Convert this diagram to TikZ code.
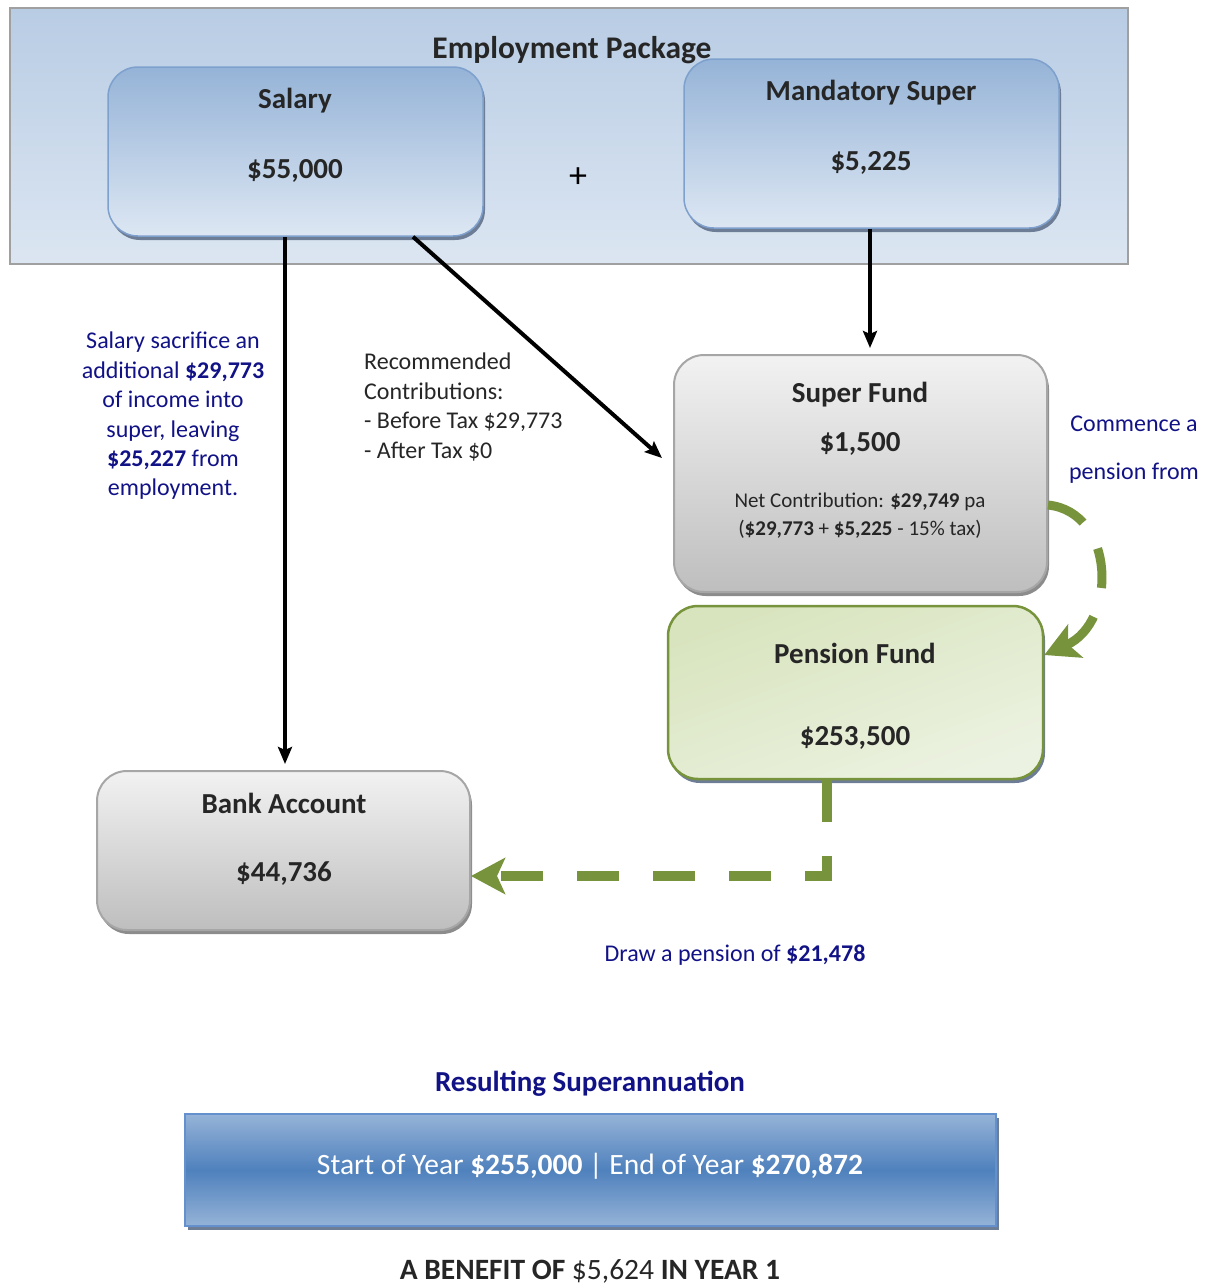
\documentclass[tikz,border=0pt]{standalone}
\usepackage{fontspec}
\setmainfont{Carlito}
\usetikzlibrary{arrows.meta,shadows}
\definecolor{navytxt}{RGB}{18,18,135}
\definecolor{boxtxt}{RGB}{38,38,38}
\definecolor{empTop}{RGB}{184,204,228}
\definecolor{empBot}{RGB}{220,230,242}
\definecolor{empBorder}{RGB}{160,160,160}
\definecolor{blueTop}{RGB}{149,179,215}
\definecolor{blueBot}{RGB}{221,231,243}
\definecolor{blueBorder}{RGB}{126,160,205}
\definecolor{grayTop}{RGB}{242,242,242}
\definecolor{grayBot}{RGB}{190,190,190}
\definecolor{grayBorder}{RGB}{166,166,166}
\definecolor{greenTop}{RGB}{216,228,190}
\definecolor{greenBot}{RGB}{236,242,225}
\definecolor{greenBorder}{RGB}{119,147,60}
\definecolor{barMid}{RGB}{79,129,189}
\definecolor{barEdge}{RGB}{149,179,215}
\definecolor{barBorder}{RGB}{100,145,205}
\definecolor{shadowgray}{RGB}{140,140,140}
\definecolor{shadowblue}{RGB}{110,125,150}
\begin{document}
\begin{tikzpicture}[x=1pt,y=-1pt,
  empbox/.style={draw=empBorder, line width=2.5pt, top color=empTop, bottom color=empBot,
    minimum width=1118pt, minimum height=256pt, inner sep=0pt},
  bluebox/.style={draw=blueBorder, line width=1.5pt, rounded corners=30pt,
    top color=blueTop, bottom color=blueBot,
    drop shadow={shadow xshift=2pt, shadow yshift=-4pt, fill=shadowblue, opacity=1},
    minimum width=375pt, minimum height=169pt, inner sep=0pt},
  graybox/.style={draw=grayBorder, line width=2pt, rounded corners=30pt,
    top color=grayTop, bottom color=grayBot,
    drop shadow={shadow xshift=2pt, shadow yshift=-4pt, fill=shadowgray, opacity=1},
    minimum width=373pt, inner sep=0pt},
  greenbox/.style={draw=greenBorder, line width=2.5pt, rounded corners=30pt,
    top color=greenTop, bottom color=greenBot, shading angle=20,
    drop shadow={shadow xshift=2pt, shadow yshift=-4pt, fill=shadowblue, opacity=1},
    minimum width=375pt, minimum height=173pt, inner sep=0pt},
  barbox/.style={draw=barBorder, line width=2pt, top color=barEdge, bottom color=barEdge, middle color=barMid,
    drop shadow={shadow xshift=3pt, shadow yshift=-4pt, fill=shadowblue, opacity=1},
    minimum width=811pt, minimum height=112pt, inner sep=0pt},
  big/.style={font=\fontsize{29}{35}\selectfont\bfseries, text=boxtxt, inner sep=0pt},
  small/.style={font=\fontsize{24}{29.4}\selectfont, inner sep=0pt},
  note/.style={font=\fontsize{24}{29.4}\selectfont, text=navytxt, inner sep=0pt},
  blackarrow/.style={line width=4pt, -{Stealth[length=17pt,width=14pt,inset=3pt]}},
  greenarrow/.style={draw=greenBorder, line width=9pt, dash pattern=on 40pt off 30pt,
    -{Stealth[length=34pt,width=36pt,inset=8pt]}}
]
\useasboundingbox (0,0) rectangle (1210,1288);

% employment package
\node[empbox] (emp) at (569,136) {};
\node[big, font=\fontsize{31.5}{37}\selectfont\bfseries] (empT) at (572,50) {Employment Package};

\node[bluebox] (salary) at (295.5,151.5) {};
\node[big] (salaryT) at (295,101) {Salary};
\node[big] (salaryV) at (295,171) {\$55,000};

\node[font=\fontsize{36}{40}\selectfont, inner sep=0pt] (plus) at (578,178) {+};

\node[bluebox] (mand) at (871.5,143.5) {};
\node[big] (mandT) at (871,93) {Mandatory Super};
\node[big] (mandV) at (871,163) {\$5,225};

% super fund
\node[graybox, minimum height=237pt] (super) at (860.5,473.5) {};
\node[big] (superT) at (860,395) {Super Fund};
\node[big] (superV) at (860,444) {\$1,500};
\node[inner sep=0pt, text=boxtxt, align=center, font=\fontsize{21}{28}\selectfont] (superN) at (860,516)
  {Net Contribution: \textbf{\$29,749} pa\\(\textbf{\$29,773} + \textbf{\$5,225} - 15\% tax)};

% pension fund
\node[greenbox] (pension) at (855.5,692.5) {};
\node[big] (pensionT) at (855,653) {Pension Fund};
\node[big] (pensionV) at (855,738) {\$253,500};

% bank account
\node[graybox, minimum height=159pt] (bank) at (283.5,850.5) {};
\node[big] (bankT) at (284,803) {Bank Account};
\node[big] (bankV) at (284,874) {\$44,736};

% labels
\node[note, align=center] (sacrifice) at (173,416)
  {Salary sacrifice an\\additional \textbf{\$29,773}\\of income into\\super, leaving\\\textbf{\$25,227} from\\employment.};
\node[small, text=boxtxt, align=left, anchor=west] (recommend) at (364,407)
  {Recommended\\Contributions:\\- Before Tax \$29,773\\- After Tax \$0};
\node[note, align=center, font=\fontsize{24}{48}\selectfont] (commence) at (1134,450)
  {Commence a\\pension from};
\node[note] (draw) at (735,955) {Draw a pension of \textbf{\$21,478}};

% connectors
\coordinate (a1) at ([xshift=-10.5pt]salary.south);
\draw[blackarrow] (a1) -- ([yshift=6pt]a1 |- bank.north);
\draw[blackarrow] ([xshift=117.5pt]salary.south) -- ([xshift=-11pt,yshift=15.5pt]super.west);
\coordinate (m3) at (mand.south |- super.north);
\draw[blackarrow] ([xshift=-1.5pt]mand.south) -- ([xshift=-1.5pt,yshift=6pt]m3);

\draw[greenarrow] ([yshift=-31.5pt]super.east) .. controls (1115,512) and (1118,622) .. ([yshift=37.5pt]pension.east);
\coordinate (p1) at ([xshift=-28.5pt]pension.south);
\draw[greenarrow, line width=10pt, dash pattern=on 42pt off 34pt] (p1) |- ([yshift=-25.5pt]bank.east);

% result
\node[font=\fontsize{29}{35}\selectfont\bfseries, text=navytxt, inner sep=0pt] (resT) at (590,1084) {Resulting Superannuation};
\node[barbox] (bar) at (590.5,1170) {};
\node[font=\fontsize{29.5}{35}\selectfont, text=white, inner sep=0pt] (barT) at (590,1166)
  {Start of Year \textbf{\$255,000} | End of Year \textbf{\$270,872}};
\node[font=\fontsize{29.5}{35}\selectfont, text=boxtxt, inner sep=0pt] (benefit) at (590,1271)
  {\textbf{A BENEFIT OF} \$5,624 \textbf{IN YEAR 1}};
\end{tikzpicture}
\end{document}
